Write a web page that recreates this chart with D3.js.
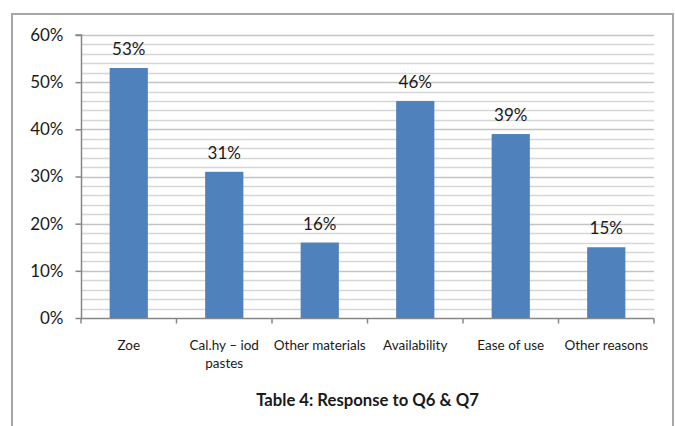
<!DOCTYPE html>
<html>
<head>
<meta charset="utf-8">
<script src="https://cdn.jsdelivr.net/npm/d3@7"></script>
<style>
  html, body { margin: 0; padding: 0; background: #fff; }
  svg { display: block; }
  text { font-family: Lato, "Open Sans", sans-serif; fill: #1a1a1a; }
</style>
</head>
<body>
<svg id="chart" width="675" height="426"></svg>
<script>
// Survey responses (share of respondents)
const categories = ["Zoe", "Cal.hy \u2013 iod pastes", "Other materials", "Availability", "Ease of use", "Other reasons"];
const categoryLines = [["Zoe"], ["Cal.hy \u2013 iod", "pastes"], ["Other materials"], ["Availability"], ["Ease of use"], ["Other reasons"]];
const values = [0.53, 0.31, 0.16, 0.46, 0.39, 0.15];
const yTicks = [0, 0.1, 0.2, 0.3, 0.4, 0.5, 0.6];
const minorTicks = d3.range(0, 61, 2).map(v => v / 100);
const title = "Table 4: Response to Q6 & Q7";

const svg = d3.select("#chart");
const margin = { left: 81, right: 21, top: 35, bottom: 108 };
const W = 675, H = 426;
const x0 = margin.left, x1 = W - margin.right;
const yTop = margin.top, yBot = H - margin.bottom;

// outer frame
svg.append("path")
  .attr("d", `M12,${H + 2} V14 H673 V${H + 2}`)
  .attr("fill", "none")
  .attr("stroke", "#a6a6a6")
  .attr("stroke-width", 2);

const x = d3.scaleBand().domain(categories).range([x0, x1]).paddingInner(0.6).paddingOuter(0.3);
const y = d3.scaleLinear().domain([0, 0.6]).range([yBot, yTop]);

// gridlines every 2%
svg.append("g").selectAll("line")
  .data(minorTicks.filter(v => v > 0))
  .join("line")
  .attr("x1", x0).attr("x2", x1)
  .attr("y1", d => Math.round(y(d)) + 0.5).attr("y2", d => Math.round(y(d)) + 0.5)
  .attr("stroke", d => Math.round(d * 100) % 10 === 0 ? "#c4c4c4" : "#d6d6d6")
  .attr("stroke-width", 1.5);

// bars
svg.append("g").selectAll("rect")
  .data(values)
  .join("rect")
  .attr("x", (d, i) => x(categories[i]))
  .attr("width", x.bandwidth())
  .attr("y", d => y(d))
  .attr("height", d => y(0) - y(d))
  .attr("fill", "#4f81bd");

// value labels
svg.append("g").selectAll("text")
  .data(values)
  .join("text")
  .attr("x", (d, i) => x(categories[i]) + x.bandwidth() / 2)
  .attr("y", d => y(d) - 13)
  .attr("text-anchor", "middle")
  .style("font-size", "17px")
  .text(d => d3.format(".0%")(d));

// y axis
const yAxis = d3.axisLeft(y).tickValues(yTicks).tickFormat(d3.format(".0%")).tickSize(6).tickPadding(12);
const gy = svg.append("g").attr("transform", `translate(${x0 + 0.5},0)`).call(yAxis);
gy.select(".domain").attr("stroke", "#868686").attr("stroke-width", 1.5).attr("d", `M-6,${yTop}H0V${yBot}`);
gy.selectAll(".tick line").attr("stroke", "#868686").attr("stroke-width", 1.5);
gy.selectAll(".tick text").style("font-size", "17px").style("font-family", "Lato, sans-serif").attr("fill", "#1a1a1a");

// x axis with ticks at category boundaries
const gx = svg.append("g").attr("transform", `translate(0,${yBot + 0.5})`);
gx.append("line").attr("x1", x0).attr("x2", x1).attr("stroke", "#868686").attr("stroke-width", 1.5);
const bounds = d3.range(categories.length + 1).map(i => x0 + i * (x1 - x0) / categories.length);
gx.selectAll("line.tick").data(bounds).join("line").attr("class", "tick")
  .attr("x1", d => d).attr("x2", d => d).attr("y1", 0).attr("y2", 5)
  .attr("stroke", "#868686").attr("stroke-width", 1.5);

const labels = gx.selectAll("text.cat").data(categoryLines).join("text").attr("class", "cat")
  .attr("x", (d, i) => x(categories[i]) + x.bandwidth() / 2)
  .attr("y", 31)
  .attr("text-anchor", "middle")
  .style("font-size", "13.5px");
labels.selectAll("tspan").data(d => d).join("tspan")
  .attr("x", function () { return d3.select(this.parentNode).attr("x"); })
  .attr("dy", (d, i) => i === 0 ? 0 : 18.5)
  .text(d => d);

// caption
svg.append("text")
  .attr("x", (x0 + x1) / 2)
  .attr("y", 406)
  .attr("text-anchor", "middle")
  .style("font-size", "16.7px")
  .style("font-weight", "bold")
  .text(title);
</script>
</body>
</html>
